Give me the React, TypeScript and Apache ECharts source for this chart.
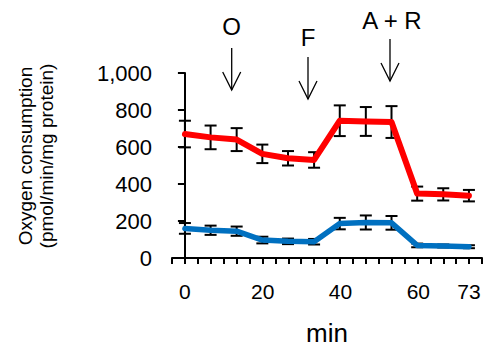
import React, { useEffect, useRef } from "react";
import * as echarts from "echarts";

// Time points (min)
const times = [0, 6.6, 13.3, 19.9, 26.5, 33.2, 39.8, 46.5, 53.1, 59.7, 66.4, 73];
// Red series: mean and error
const redMean = [670, 652, 640, 563, 539, 530, 742, 738, 735, 348, 344, 337];
const redErr = [72, 64, 62, 50, 39, 42, 83, 78, 86, 38, 33, 31];
// Blue series: mean and error
const blueMean = [160, 150, 145, 97, 90, 88, 186, 192, 190, 68, 65, 61];
const blueErr = [29, 25, 25, 18, 15, 15, 31, 38, 37, 10, 8, 8];
// Axis labels
const xLabels = [0, 20, 40, 60, 73];
const xTickStep = 3.32;
const xMin = -3.32;
const xMax = 76.36;
// Annotations (injection markers)
const annotationTexts = ["O", "F", "A + R"];

const FONT = "'Liberation Sans', Arial, sans-serif";

export default function App() {
  const ref = useRef<HTMLDivElement>(null);

  useEffect(() => {
    if (!ref.current) return;
    const chart = echarts.init(ref.current, undefined, { renderer: "svg" });

    const xTicks: number[] = [];
    for (let k = 0; k <= 24; k++) xTicks.push(+(xMin + k * xTickStep).toFixed(2));

    const errData = (mean: number[], err: number[]) =>
      times.map((t, i) => [t, mean[i] - err[i], mean[i] + err[i]]);

    const errRender = (params: any, api: any) => {
      const x = api.value(0);
      const lo = api.coord([x, api.value(1)]);
      const hi = api.coord([x, api.value(2)]);
      const hw = 6;
      const style = { stroke: "#000", lineWidth: 2 };
      return {
        type: "group",
        children: [
          { type: "line", shape: { x1: lo[0], y1: lo[1], x2: hi[0], y2: hi[1] }, style },
          { type: "line", shape: { x1: lo[0] - hw, y1: lo[1], x2: lo[0] + hw, y2: lo[1] }, style },
          { type: "line", shape: { x1: hi[0] - hw, y1: hi[1], x2: hi[0] + hw, y2: hi[1] }, style },
        ],
      };
    };

    const arrow = (x: number, top: number, tip: number) => [
      {
        type: "line",
        shape: { x1: x, y1: top, x2: x, y2: tip },
        style: { stroke: "#000", lineWidth: 1.3 },
      },
      {
        type: "polyline",
        shape: { points: [[x - 9, tip - 18], [x, tip], [x + 9, tip - 18]] },
        style: { stroke: "#000", lineWidth: 1.3, fill: null },
      },
    ];

    chart.setOption({
      animation: false,
      grid: { left: 172, right: 12, top: 73, bottom: 91, containLabel: false, outerBoundsMode: "none" },
      xAxis: {
        type: "value",
        min: xMin,
        max: xMax,
        name: "min",
        nameLocation: "middle",
        nameGap: 62,
        nameTextStyle: { fontFamily: FONT, fontSize: 26, color: "#000" },
        axisLine: { show: true, lineStyle: { color: "#000", width: 2 } },
        axisTick: {
          show: true,
          customValues: xTicks,
          length: 6,
          lineStyle: { color: "#000", width: 2 },
        },
        axisLabel: {
          customValues: xLabels,
          margin: 23,
          fontFamily: FONT,
          fontSize: 21,
          color: "#000",
        },
        splitLine: { show: false },
      },
      yAxis: {
        type: "value",
        min: 0,
        max: 1000,
        interval: 200,
        axisLine: { show: true, lineStyle: { color: "#000", width: 2 } },
        axisTick: { show: true, length: 7, lineStyle: { color: "#000", width: 2 } },
        axisLabel: {
          margin: 20,
          fontFamily: FONT,
          fontSize: 22,
          color: "#000",
          formatter: (v: number) => v.toLocaleString("en-US"),
        },
        splitLine: { show: false },
      },
      series: [
        {
          type: "custom",
          data: errData(redMean, redErr),
          encode: { x: 0, y: [1, 2] },
          renderItem: errRender,
          z: 2,
        },
        {
          type: "custom",
          data: errData(blueMean, blueErr),
          encode: { x: 0, y: [1, 2] },
          renderItem: errRender,
          z: 2,
        },
        {
          type: "line",
          data: times.map((t, i) => [t, redMean[i]]),
          symbol: "none",
          lineStyle: { color: "#FF0000", width: 6, cap: "round", join: "round" },
          z: 5,
        },
        {
          type: "line",
          data: times.map((t, i) => [t, blueMean[i]]),
          symbol: "none",
          lineStyle: { color: "#0070C0", width: 5.5, cap: "round", join: "round" },
          z: 5,
        },
      ],
      graphic: [
        {
          type: "text",
          x: 36,
          y: 156,
          rotation: Math.PI / 2,
          style: {
            text: "Oxygen consumption\n(pmol/min/mg protein)",
            font: `19px ${FONT}`,
            lineHeight: 21,
            fill: "#000",
            align: "center",
            verticalAlign: "middle",
          },
        },
        {
          type: "text",
          x: 231.7,
          y: 26,
          style: { text: annotationTexts[0], font: `24px ${FONT}`, fill: "#000", align: "center", verticalAlign: "middle" },
        },
        {
          type: "text",
          x: 308,
          y: 37,
          style: { text: annotationTexts[1], font: `24px ${FONT}`, fill: "#000", align: "center", verticalAlign: "middle" },
        },
        {
          type: "text",
          x: 392,
          y: 20,
          style: { text: annotationTexts[2], font: `24px ${FONT}`, fill: "#000", align: "center", verticalAlign: "middle" },
        },
        ...arrow(231.7, 48, 90),
        ...arrow(308, 57, 99),
        ...arrow(390, 39, 81),
      ],
    });

    return () => chart.dispose();
  }, []);

  return (
    <div
      ref={ref}
      style={{ position: "fixed", left: 0, top: 0, width: 494, height: 349, background: "#fff" }}
    />
  );
}
